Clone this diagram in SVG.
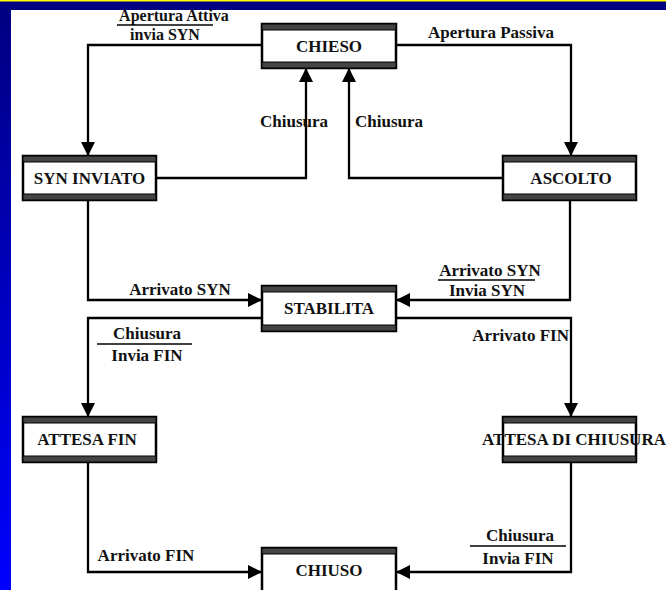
<svg xmlns="http://www.w3.org/2000/svg" width="666" height="590" viewBox="0 0 666 590">
<defs>
<linearGradient id="side" x1="0" y1="0" x2="0" y2="1">
<stop offset="0" stop-color="#000080"/>
<stop offset="1" stop-color="#0000FF"/>
</linearGradient>
<marker id="arr" markerUnits="userSpaceOnUse" markerWidth="16" markerHeight="16" viewBox="0 0 16 16" refX="14" refY="8" orient="auto">
<path d="M0,1 L14,8 L0,15 Z" fill="#000"/>
</marker>
<style>
.box{fill:#fff;stroke:#000;stroke-width:2.5}
.bar{fill:#444;stroke:#000;stroke-width:1}
.nt{font-family:"Liberation Serif","Times New Roman",serif;font-weight:bold;font-size:17px;text-anchor:middle;fill:#111}
.lb{font-family:"Liberation Serif","Times New Roman",serif;font-weight:bold;font-size:17px;fill:#111}
.sm{font-size:16px}
.c{text-anchor:middle}
.e{text-anchor:end}
.cn{fill:none;stroke:#000;stroke-width:2.3}
.fr{stroke:#000;stroke-width:1.3}
</style>
</defs>
<rect x="0" y="0" width="666" height="590" fill="url(#side)"/>
<rect x="0" y="0" width="666" height="10" fill="#000080"/>
<rect x="0" y="0" width="666" height="1.5" fill="#FFFF00"/>
<rect x="11" y="10" width="655" height="580" fill="#fff"/>

<g id="connectors">
<polyline class="cn" points="262,45 88,45 88,156" marker-end="url(#arr)"/>
<polyline class="cn" points="396,45 571,45 571,156" marker-end="url(#arr)"/>
<polyline class="cn" points="156,178 306,178 306,68" marker-end="url(#arr)"/>
<polyline class="cn" points="503,178 349,178 349,68" marker-end="url(#arr)"/>
<polyline class="cn" points="88,200 88,300 262,300" marker-end="url(#arr)"/>
<polyline class="cn" points="570,200 570,300 396,300" marker-end="url(#arr)"/>
<polyline class="cn" points="262,318 88,318 88,417" marker-end="url(#arr)"/>
<polyline class="cn" points="396,318 571,318 571,417" marker-end="url(#arr)"/>
<polyline class="cn" points="88,462 88,572 262,572" marker-end="url(#arr)"/>
<polyline class="cn" points="571,462 571,572 396,572" marker-end="url(#arr)"/>

<text class="lb sm c" x="174" y="21">Apertura Attiva</text>
<line class="fr" x1="117" y1="25" x2="213" y2="25"/>
<text class="lb sm c" x="165" y="40">invia SYN</text>

<text class="lb c" x="491" y="38">Apertura Passiva</text>

<text class="lb c" x="294" y="127">Chiusura</text>
<text class="lb c" x="389" y="127">Chiusura</text>

<text class="lb c" x="180" y="295">Arrivato SYN</text>

<text class="lb c" x="490" y="276">Arrivato SYN</text>
<line class="fr" x1="438" y1="280" x2="535" y2="280"/>
<text class="lb c" x="487" y="296">Invia SYN</text>

<text class="lb c" x="147" y="339">Chiusura</text>
<line class="fr" x1="97" y1="344" x2="192" y2="344"/>
<text class="lb c" x="147" y="361">Invia FIN</text>

<text class="lb e" x="569" y="341">Arrivato FIN</text>

<text class="lb c" x="146" y="561">Arrivato FIN</text>

<text class="lb c" x="520" y="541">Chiusura</text>
<line class="fr" x1="470" y1="546" x2="566" y2="546"/>
<text class="lb c" x="518" y="564">Invia FIN</text>
</g>

<g id="chieso">
<rect class="box" x="262" y="24" width="134" height="44"/>
<rect class="bar" x="262" y="24" width="134" height="6"/>
<rect class="bar" x="262" y="62" width="134" height="6"/>
<text class="nt" x="329" y="52">CHIESO</text>
</g>
<g id="syn-inviato">
<rect class="box" x="23" y="156" width="133" height="44"/>
<rect class="bar" x="23" y="156" width="133" height="6"/>
<rect class="bar" x="23" y="194" width="133" height="6"/>
<text class="nt" x="89.5" y="184">SYN INVIATO</text>
</g>
<g id="ascolto">
<rect class="box" x="503" y="156" width="133" height="44"/>
<rect class="bar" x="503" y="156" width="133" height="6"/>
<rect class="bar" x="503" y="194" width="133" height="6"/>
<text class="nt" x="571" y="184">ASCOLTO</text>
</g>
<g id="stabilita">
<rect class="box" x="262" y="286" width="134" height="45"/>
<rect class="bar" x="262" y="286" width="134" height="6"/>
<rect class="bar" x="262" y="325" width="134" height="6"/>
<text class="nt" x="329" y="314">STABILITA</text>
</g>
<g id="attesa-fin">
<rect class="box" x="23" y="417" width="133" height="45"/>
<rect class="bar" x="23" y="417" width="133" height="6"/>
<rect class="bar" x="23" y="456" width="133" height="6"/>
<text class="nt" x="87" y="445">ATTESA FIN</text>
</g>
<g id="attesa-di-chiusura">
<rect class="box" x="503" y="417" width="133" height="45"/>
<rect class="bar" x="503" y="417" width="133" height="6"/>
<rect class="bar" x="503" y="456" width="133" height="6"/>
<text class="nt" x="574" y="445">ATTESA DI CHIUSURA</text>
</g>
<g id="chiuso">
<rect class="box" x="262" y="548" width="134" height="45"/>
<rect class="bar" x="262" y="548" width="134" height="6"/>
<text class="nt" x="329" y="576">CHIUSO</text>
</g>
</svg>
